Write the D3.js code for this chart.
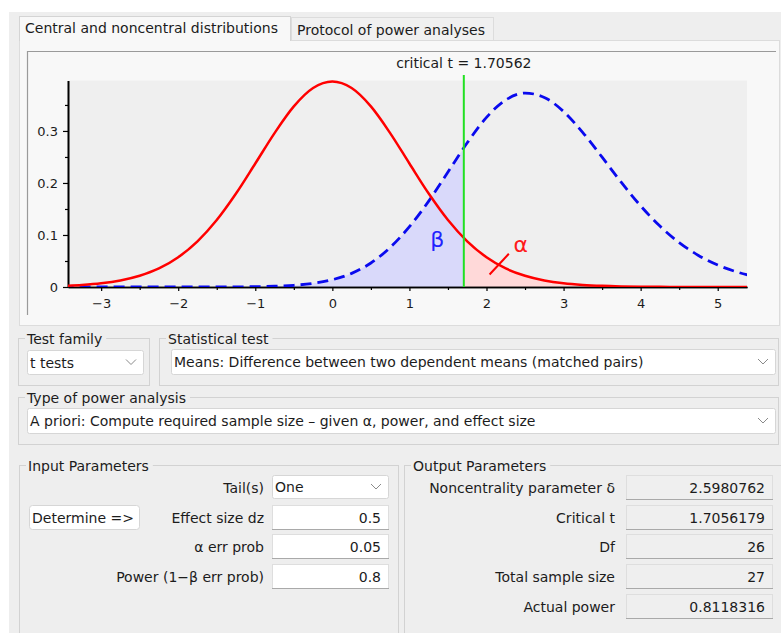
<!DOCTYPE html>
<html>
<head>
<meta charset="utf-8">
<title>G*Power – t test distributions</title>
<script src="https://d3js.org/d3.v7.min.js"></script>
<style>
  body { margin: 0; background: #fff; }
  svg text { font-family: "DejaVu Sans", sans-serif; fill: #1c1c1c; }
</style>
</head>
<body>
<div id="app"></div>
<script>

// ---- values ----
var tGrid = [-3.5, -3.25, -3, -2.75, -2.5, -2.25, -2, -1.75, -1.5, -1.25, -1, -0.75, -0.5, -0.25,
             0, 0.25, 0.5, 0.75, 1, 1.25, 1.5, 1.75, 2, 2.25, 2.5, 2.75, 3, 3.25, 3.5, 3.75,
             4, 4.25, 4.5, 4.75, 5, 5.25, 5.5];

// central t (H0), red solid
var centralPdf = [0.0022, 0.0040, 0.0071, 0.0126, 0.0216, 0.0356, 0.0572, 0.0878, 0.1288, 0.1797, 0.2374, 0.2959, 0.3472, 0.3825,
                  0.3951, 0.3825, 0.3472, 0.2959, 0.2374, 0.1797, 0.1288, 0.0878, 0.0572, 0.0356, 0.0216, 0.0126, 0.0071, 0.0040, 0.0022, 0.0012,
                  0.0006, 0.0003, 0.0002, 0.0001, 0.0000, 0.0000, 0.0000];

// noncentral t (H1), blue dashed
var noncentralPdf = [0.0000, 0.0000, 0.0000, 0.0000, 0.0000, 0.0000, 0.0000, 0.0001, 0.0001, 0.0003, 0.0007, 0.0015, 0.0033, 0.0070,
                     0.0140, 0.0262, 0.0462, 0.0760, 0.1160, 0.1650, 0.2210, 0.2772, 0.3261, 0.3596, 0.3728, 0.3645, 0.3374, 0.2969, 0.2495, 0.2010,
                     0.1560, 0.1171, 0.0854, 0.0607, 0.0423, 0.0289, 0.0195];

var criticalT = 1.70562;
var xTicks = [-3, -2, -1, 0, 1, 2, 3, 4, 5];
var xMinorTicks = [-2.5, -1.5, -0.5, 0.5, 1.5, 2.5, 3.5, 4.5];
var yTicks = [0, 0.1, 0.2, 0.3];
var yMinorTicks = [0.05, 0.15, 0.25, 0.35];

var tabLabels = ["Central and noncentral distributions", "Protocol of power analyses"];
var testFamily = "t tests";
var statisticalTest = "Means: Difference between two dependent means (matched pairs)";
var analysisType = "A priori: Compute required sample size \u2013 given \u03b1, power, and effect size";
var tails = "One";
var inputRows = [["Effect size dz", "0.5"], ["\u03b1 err prob", "0.05"], ["Power (1\u2212\u03b2 err prob)", "0.8"]];
var outputRows = [["Noncentrality parameter \u03b4", "2.5980762"], ["Critical t", "1.7056179"], ["Df", "26"],
                  ["Total sample size", "27"], ["Actual power", "0.8118316"]];

// ---- page ----
var W = 781, H = 633;
var svg = d3.select("#app").append("svg")
    .attr("width", W)
    .attr("height", H);

svg.append("rect").attr("width", W).attr("height", H).attr("fill", "#fff");
svg.append("rect").attr("x", 9).attr("y", 12).attr("width", W - 9).attr("height", H - 12).attr("fill", "#eeeeee");

// tab panel
svg.append("rect").attr("x", 19.5).attr("y", 40.5).attr("width", 760).attr("height", 285)
    .attr("fill", "#f8f8f8").attr("stroke", "#dcdcdc");
svg.append("rect").attr("x", 19.5).attr("y", 16.5).attr("width", 271).attr("height", 24)
    .attr("fill", "#f8f8f8").attr("stroke", "#d4d4d4");
svg.append("line").attr("x1", 20).attr("x2", 290).attr("y1", 40.5).attr("y2", 40.5).attr("stroke", "#f8f8f8");
svg.append("rect").attr("x", 291.5).attr("y", 17.5).attr("width", 202).attr("height", 23)
    .attr("fill", "#f0f0f0").attr("stroke", "#dcdcdc");
svg.append("text").attr("x", 25).attr("y", 33).style("font-size", "14px").text(tabLabels[0]);
svg.append("text").attr("x", 297).attr("y", 34.5).style("font-size", "14px").text(tabLabels[1]);

// sunken frame round the chart
svg.append("path").attr("d", "M27.5,315V51.5H776").attr("fill", "none").attr("stroke", "#9a9a9a").attr("stroke-width", 1.2);

// ---- chart ----
var plot = {left: 68, right: 747, top: 80.5, bottom: 287};

var x = d3.scaleLinear().domain([-3.43, 5.38]).range([plot.left, plot.right]);
var y = d3.scaleLinear().domain([0, 0.397]).range([plot.bottom, plot.top]);

svg.append("rect")
    .attr("x", plot.left).attr("y", plot.top)
    .attr("width", plot.right - plot.left).attr("height", plot.bottom - plot.top)
    .attr("fill", "#efefef");

var defs = svg.append("defs");
defs.append("clipPath").attr("id", "clip-plot").append("rect")
    .attr("x", plot.left).attr("y", plot.top - 5)
    .attr("width", plot.right - plot.left).attr("height", plot.bottom - plot.top + 5);
defs.append("clipPath").attr("id", "clip-beta").append("rect")
    .attr("x", plot.left).attr("y", plot.top)
    .attr("width", x(criticalT) - plot.left).attr("height", plot.bottom - plot.top);
defs.append("clipPath").attr("id", "clip-alpha").append("rect")
    .attr("x", x(criticalT)).attr("y", plot.top)
    .attr("width", plot.right - x(criticalT)).attr("height", plot.bottom - plot.top);

var h0 = tGrid.map(function(t, i) { return [t, centralPdf[i]]; });
var h1 = tGrid.map(function(t, i) { return [t, noncentralPdf[i]]; });

var area = d3.area()
    .x(function(d) { return x(d[0]); })
    .y0(y(0))
    .y1(function(d) { return y(d[1]); })
    .curve(d3.curveMonotoneX);
var line = d3.line()
    .x(function(d) { return x(d[0]); })
    .y(function(d) { return y(d[1]); })
    .curve(d3.curveMonotoneX);

// shaded beta (under H1, left of critical t) and alpha (under H0, right of it)
svg.append("path").datum(h1).attr("d", area).attr("fill", "#d9d9fa").attr("clip-path", "url(#clip-beta)");
svg.append("path").datum(h0).attr("d", area).attr("fill", "#ffd9d9").attr("clip-path", "url(#clip-alpha)");

// axes
var xAxis = svg.append("g").attr("transform", "translate(0," + plot.bottom + ")")
    .call(d3.axisBottom(x).tickValues(xTicks).tickSize(4).tickSizeOuter(0).tickPadding(8));
svg.append("g").attr("transform", "translate(0," + plot.bottom + ")")
    .call(d3.axisBottom(x).tickValues(xMinorTicks).tickSize(3).tickSizeOuter(0).tickFormat(""));
var yAxis = svg.append("g").attr("transform", "translate(" + plot.left + ",0)")
    .call(d3.axisLeft(y).tickValues(yTicks).tickSize(5).tickSizeOuter(0).tickPadding(5)
        .tickFormat(function(d) { return d === 0 ? "0" : d.toFixed(1); }));
svg.append("g").attr("transform", "translate(" + plot.left + ",0)")
    .call(d3.axisLeft(y).tickValues(yMinorTicks).tickSize(3).tickSizeOuter(0).tickFormat(""));

svg.selectAll(".domain").attr("stroke", "#000").attr("stroke-width", 1.6);
svg.selectAll(".tick line").attr("stroke", "#000").attr("stroke-width", 1.2);
svg.selectAll(".tick text").style("font-size", "13px").attr("font-family", null).attr("fill", "#1c1c1c");

// curves
var curves = svg.append("g").attr("clip-path", "url(#clip-plot)");
curves.append("path").datum(h1).attr("d", line)
    .attr("fill", "none").attr("stroke", "#0a0aee").attr("stroke-width", 2.8)
    .attr("stroke-dasharray", "11,6");
curves.append("path").datum(h0).attr("d", line)
    .attr("fill", "none").attr("stroke", "#ff0000").attr("stroke-width", 2.5);

// critical t marker
svg.append("line")
    .attr("x1", x(criticalT)).attr("x2", x(criticalT))
    .attr("y1", 75).attr("y2", plot.bottom)
    .attr("stroke", "#22e022").attr("stroke-width", 2);
svg.append("text")
    .attr("x", x(criticalT)).attr("y", 68)
    .attr("text-anchor", "middle").style("font-size", "14px")
    .text("critical t = " + criticalT);

// beta / alpha labels
svg.append("text")
    .attr("x", x(1.36)).attr("y", y(0.077))
    .attr("text-anchor", "middle").style("font-size", "22px").style("fill", "#2222ff")
    .text("\u03b2");
svg.append("text")
    .attr("x", x(2.35)).attr("y", y(0.067))
    .style("font-size", "22px").style("fill", "#ff1a1a")
    .text("\u03b1");
svg.append("line")
    .attr("x1", x(2.04)).attr("y1", y(0.024))
    .attr("x2", x(2.29)).attr("y2", y(0.064))
    .attr("stroke", "#ff0000").attr("stroke-width", 2);

// ---- controls ----
function groupBox(x0, y0, w, h, label, baseline) {
  svg.append("rect").attr("x", x0 + 0.5).attr("y", y0 + 0.5).attr("width", w).attr("height", h)
      .attr("fill", "none").attr("stroke", "#d2d2d2");
  var t = svg.append("text").attr("x", 27 + (x0 - 18)).attr("y", baseline).style("font-size", "14px").text(label);
  var len = t.node().getComputedTextLength();
  svg.insert("rect", function() { return t.node(); })
      .attr("x", x0 + 7).attr("y", y0 - 3).attr("width", len + 6).attr("height", 7)
      .attr("fill", "#eeeeee");
}

function chevron(cx, cy) {
  svg.append("path")
      .attr("d", "M" + (cx - 5) + "," + (cy - 2.5) + "L" + cx + "," + (cy + 2.5) + "L" + (cx + 5) + "," + (cy - 2.5))
      .attr("fill", "none").attr("stroke", "#8a8a8a").attr("stroke-width", 1);
}

function combo(x0, y0, w, h, label, baseline) {
  svg.append("rect").attr("x", x0 + 0.5).attr("y", y0 + 0.5).attr("width", w).attr("height", h)
      .attr("rx", 2).attr("fill", "#fff").attr("stroke", "#d6d6d6");
  svg.append("text").attr("x", x0 + 3).attr("y", baseline).style("font-size", "14px").text(label);
  chevron(x0 + w - 12, y0 + h / 2);
}

function field(x0, y0, w, h, value, baseline, fill) {
  svg.append("rect").attr("x", x0 + 0.5).attr("y", y0 + 0.5).attr("width", w).attr("height", h)
      .attr("fill", fill).attr("stroke", "#dedede");
  svg.append("line").attr("x1", x0).attr("x2", x0 + w + 1).attr("y1", y0 + h + 0.5).attr("y2", y0 + h + 0.5)
      .attr("stroke", "#a9a9a9");
  svg.append("text").attr("x", x0 + w - 7).attr("y", baseline).attr("text-anchor", "end")
      .style("font-size", "14px").text(value);
}

groupBox(18, 338, 131, 47, "Test family", 344);
groupBox(159, 338, 619, 47, "Statistical test", 344);
groupBox(18, 397, 760, 47, "Type of power analysis", 403);
groupBox(19, 465, 379, 200, "Input Parameters", 471);
groupBox(404, 465, 400, 200, "Output Parameters", 471);

combo(27, 350, 116, 24, testFamily, 368);
combo(171, 349, 604, 25, statisticalTest, 367);
combo(27, 408, 748, 25, analysisType, 426);

// input parameters
svg.append("text").attr("x", 264).attr("y", 493).attr("text-anchor", "end").style("font-size", "14px").text("Tail(s)");
combo(272, 475, 116, 23, tails, 492);

svg.append("rect").attr("x", 29.5).attr("y", 505.5).attr("width", 110).attr("height", 24).attr("rx", 3)
    .attr("fill", "#fff").attr("stroke", "#d6d6d6");
svg.append("text").attr("x", 32).attr("y", 523).style("font-size", "14px").text("Determine =>");

var inTop = [505, 534, 564];
inputRows.forEach(function(r, i) {
  svg.append("text").attr("x", 264).attr("y", inTop[i] + 18).attr("text-anchor", "end")
      .style("font-size", "14px").text(r[0]);
  field(272, inTop[i], 116, 24, r[1], inTop[i] + 18, "#fff");
});

// output parameters
var outTop = [475, 505, 534, 564, 594];
outputRows.forEach(function(r, i) {
  svg.append("text").attr("x", 615).attr("y", outTop[i] + 18).attr("text-anchor", "end")
      .style("font-size", "14px").text(r[0]);
  field(626, outTop[i], 146, 24, r[1], outTop[i] + 18, "#efefef");
});

</script>
</body>
</html>
